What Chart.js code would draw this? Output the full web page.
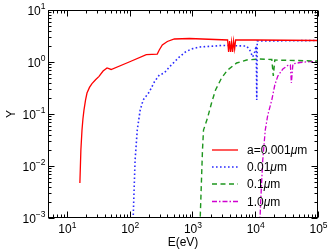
<!DOCTYPE html>
<html><head><meta charset="utf-8">
<script src="https://cdn.jsdelivr.net/npm/chart.js@4/dist/chart.umd.min.js"></script>
<style>html,body{margin:0;padding:0;background:#fff}#c{display:block}</style>
</head><body>
<div style="width:332px;height:252px"><canvas id="c" width="332" height="252"></canvas></div>
<script>
// ---- data ----
const redE = [16.1,16.7,17.4,18.0,18.7,19.8,20.9,22.9,25.1,28.6,32.5,37.7,43.6,50.6,98.2,184,275,296,331,398,515,895,3631,3767,3908,4055,4207,4365,4529,4699,4875,9817,100000];
const redY = [0.0047,0.0203,0.0492,0.080,0.119,0.185,0.253,0.325,0.385,0.455,0.53,0.67,0.767,0.718,1.0,1.39,1.42,1.70,2.12,2.48,2.77,2.83,2.65,1.56,2.53,1.56,2.42,1.56,2.53,1.78,2.65,2.65,2.59];
const blueE = [113,122,132,147,164,205,247,296,356,428,619,773,964,1294,3020,7311,8166,9120,9817,10380,10570,10770,100000];
const blueY = [0.0008,0.013,0.049,0.119,0.186,0.265,0.412,0.562,0.614,0.801,1.25,1.56,1.78,1.94,2.08,2.03,1.70,1.25,1.56,2.03,0.186,2.53,2.59];
const greenE = [1318,1445,1500,1738,2014,2333,2911,3631,5058,7311,11800,18360,19410,20510,100000];
const greenY = [0.00073,0.0203,0.049,0.0838,0.163,0.29,0.492,0.702,0.957,1.093,1.14,1.12,0.538,1.09,1.045];
const magE = [11800,12250,13180,14450,15850,18360,20510,22910,27540,33110,36310,37670,39810,51520,74470,100000];
const magY = [0.00073,0.00222,0.013,0.049,0.0957,0.186,0.361,0.538,0.733,0.857,0.876,0.395,0.915,0.978,1.02,1.02];
const seriesLabels = ['a=0.001', '0.01', '0.1', '1.0'];
const xTickExps = [1,2,3,4,5];
const yTickExps = [-3,-2,-1,0,1];
const xTitle = 'E(eV)';
const yTitle = 'Y';

const pts = (xs, ys) => xs.map((x, i) => ({x: x, y: ys[i]}));
const styles = [
  {color:'#ff0000', width:1.3, dash:[]},
  {color:'#2a2aff', width:1.6, dash:[1.6,2.4]},
  {color:'#1e961e', width:1.4, dash:[5,3.5]},
  {color:'#d000d0', width:1.3, dash:[5,2,1.5,2]}
];
const allData = [pts(redE,redY), pts(blueE,blueY), pts(greenE,greenY), pts(magE,magY)];

const FONT = '"Liberation Sans", Arial, Helvetica, sans-serif';
const sup = e => String(e).replace('-', '\u2212');

const framePlugin = {
  id: 'frame',
  afterDraw(chart) {
    const ctx = chart.ctx, a = chart.chartArea, xs = chart.scales.x, ys = chart.scales.y;
    ctx.save();
    ctx.strokeStyle = '#000'; ctx.lineWidth = 1; ctx.setLineDash([]);
    const L = Math.round(a.left)+0.5, R = Math.round(a.right)-0.5, T = Math.round(a.top)+0.5, B = Math.round(a.bottom)-0.5;
    ctx.strokeRect(L, T, R-L, B-T);
    ctx.beginPath();
    for (let k = 0; k <= 5; k++) {
      for (let m = 1; m <= 9; m++) {
        const v = m*Math.pow(10,k);
        if (v < xs.min || v > xs.max) continue;
        const px = Math.round(xs.getPixelForValue(v))+0.5;
        const len = m === 1 ? 6 : 3;
        ctx.moveTo(px, B); ctx.lineTo(px, B-len);
        ctx.moveTo(px, T); ctx.lineTo(px, T+len);
      }
    }
    for (let k = -3; k <= 1; k++) {
      for (let m = 1; m <= 9; m++) {
        const v = m*Math.pow(10,k);
        if (v < ys.min*0.999 || v > ys.max*1.001) continue;
        const py = Math.round(ys.getPixelForValue(v))+0.5;
        const len = m === 1 ? 6 : 3;
        ctx.moveTo(L, py); ctx.lineTo(L+len, py);
        ctx.moveTo(R, py); ctx.lineTo(R-len, py);
      }
    }
    ctx.stroke();
    ctx.fillStyle = '#000';
    ctx.textBaseline = 'alphabetic';
    xTickExps.forEach(e => {
      const px = xs.getPixelForValue(Math.pow(10,e));
      ctx.font = '12px ' + FONT; const w1 = ctx.measureText('10').width;
      ctx.font = '8.5px ' + FONT; const w2 = ctx.measureText(sup(e)).width;
      const x0 = px - (w1+w2)/2 + 0.5;
      ctx.font = '12px ' + FONT; ctx.textAlign = 'left'; ctx.fillText('10', x0, 233);
      ctx.font = '8.5px ' + FONT; ctx.fillText(sup(e), x0 + w1, 228);
    });
    yTickExps.forEach(e => {
      const py = ys.getPixelForValue(Math.pow(10,e));
      ctx.font = '8.5px ' + FONT; const w2 = ctx.measureText(sup(e)).width;
      const xr = 45.5;
      ctx.textAlign = 'left';
      ctx.fillText(sup(e), xr - w2, py - 1);
      ctx.font = '12px ' + FONT; const w1 = ctx.measureText('10').width;
      ctx.fillText('10', xr - w2 - w1, py + 4.5);
    });
    ctx.font = '12px ' + FONT; ctx.textAlign = 'center';
    ctx.fillText(xTitle, (a.left+a.right)/2, 246);
    ctx.save(); ctx.translate(15, 114); ctx.rotate(-Math.PI/2);
    ctx.fillText(yTitle, 0, 0); ctx.restore();
    const rows = [150, 167, 184, 201.5];
    styles.forEach((s, i) => {
      const y = rows[i];
      ctx.strokeStyle = s.color; ctx.lineWidth = s.width; ctx.setLineDash(s.dash);
      ctx.beginPath(); ctx.moveTo(212, y); ctx.lineTo(238, y); ctx.stroke();
      ctx.setLineDash([]);
      ctx.fillStyle = '#000'; ctx.textAlign = 'left';
      ctx.font = '12px ' + FONT;
      let x = 247;
      ctx.fillText(seriesLabels[i], x, y + 4); x += ctx.measureText(seriesLabels[i]).width;
      ctx.font = 'italic 12px ' + FONT;
      ctx.fillText('\u03bc', x, y + 4); x += ctx.measureText('\u03bc').width;
      ctx.font = '12px ' + FONT;
      ctx.fillText('m', x, y + 4);
    });
    ctx.restore();
  }
};

new Chart(document.getElementById('c'), {
  type: 'line',
  data: {
    datasets: allData.map((d, i) => ({
      label: seriesLabels[i],
      data: d,
      borderColor: styles[i].color,
      borderWidth: styles[i].width,
      borderDash: styles[i].dash,
      pointRadius: 0,
      tension: 0,
      fill: false,
      clip: 0
    }))
  },
  options: {
    responsive: false,
    animation: false,
    devicePixelRatio: 1,
    layout: {padding: {left: 48, right: 14, top: 10, bottom: 34}},
    plugins: {legend: {display: false}, tooltip: {enabled: false}},
    scales: {
      x: {type: 'logarithmic', min: 5, max: 100000, display: false},
      y: {type: 'logarithmic', min: 0.001, max: 10, display: false}
    }
  },
  plugins: [framePlugin]
});
</script>
</body></html>
